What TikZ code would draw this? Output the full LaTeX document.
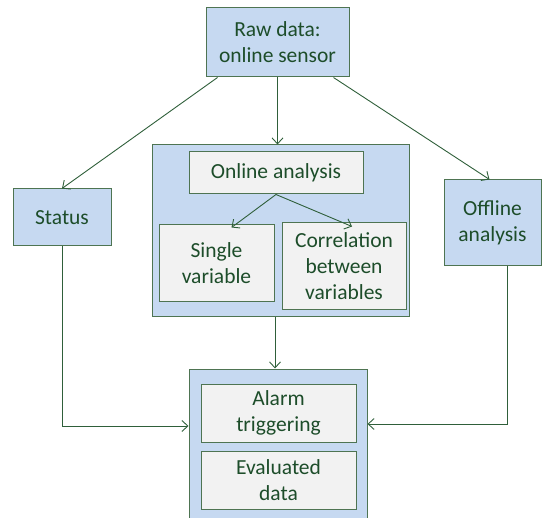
\documentclass[tikz,border=0pt]{standalone}
\usepackage{fontspec}
\setmainfont{Carlito}
\usetikzlibrary{arrows.meta,calc}
\definecolor{boxblue}{HTML}{C6D9F1}
\definecolor{boxgray}{HTML}{F2F2F2}
\definecolor{edge}{HTML}{4E7452}
\definecolor{txt}{HTML}{1D4D2A}
\definecolor{arr}{HTML}{2F5F3A}
\tikzset{
  bluebox/.style={draw=edge, fill=boxblue, line width=1pt, align=center, text=txt, inner sep=0pt, font=\fontsize{21.5}{26}\selectfont},
  graybox/.style={draw=edge, fill=boxgray, line width=1pt, align=center, text=txt, inner sep=0pt, font=\fontsize{21.5}{26}\selectfont},
  conn/.style={draw=arr, line width=0.9pt, -{Straight Barb[length=6pt,width=11pt]}}
}
\begin{document}
\begin{tikzpicture}[x=1pt,y=-1pt]
\useasboundingbox (0,0) rectangle (543,518);
\node[bluebox, minimum width=143pt, minimum height=69pt] (raw) at (277.5,42.5) {Raw data:\\online sensor};
\node[bluebox, minimum width=98pt, minimum height=57pt] (status) at (62,217.5) {Status};
\node[bluebox, minimum width=97pt, minimum height=86pt] (offline) at (492.5,223) {Offline\\analysis};
\node[bluebox, minimum width=257pt, minimum height=172pt] (mid) at (280.5,231) {};
\node[graybox, minimum width=174pt, minimum height=42pt] (online) at (276,173) {Online analysis};
\node[graybox, minimum width=115pt, minimum height=77pt] (single) at (216.5,263.5) {Single\\variable};
\node[graybox, minimum width=124pt, minimum height=87pt] (corr) at (344,266.5) {Correlation\\between\\variables};
\node[bluebox, minimum width=178pt, minimum height=161pt] (bottom) at (278,449.5) {};
\node[graybox, minimum width=155pt, minimum height=58pt] (alarm) at (278.5,413) {Alarm\\triggering};
\node[graybox, minimum width=155pt, minimum height=58pt] (evald) at (278.5,480) {Evaluated\\data};
\draw[conn] ([xshift=-60pt]raw.south) -- (status.north);
\draw[conn] ([xshift=56pt]raw.south) -- ([xshift=-3pt]offline.north);
\draw[conn] (raw.south) -- (raw.south |- mid.north);
\draw[conn] (online.south) -- ([xshift=15pt,yshift=-3pt]single.north);
\draw[conn] (online.south) -- ([xshift=8pt,yshift=-4pt]corr.north);
\draw[conn] ([xshift=-3pt]bottom.north |- mid.south) -- ([xshift=-3pt]bottom.north);
\draw[conn] (status.south) |- ([yshift=-13pt]alarm.west -| bottom.west);
\draw[conn] ([xshift=15pt]offline.south) |- ([yshift=-11pt]alarm.east -| bottom.east);
\end{tikzpicture}
\end{document}
